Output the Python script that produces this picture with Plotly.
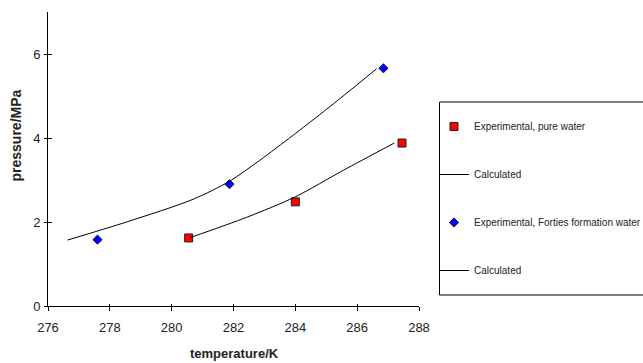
import plotly.graph_objects as go

# Experimental hydrate equilibrium points
pure_T = [280.55, 284.0, 287.45]
pure_P = [1.62, 2.48, 3.88]
forties_T = [277.6, 281.87, 286.85]
forties_P = [1.58, 2.90, 5.66]

# Calculated equilibrium curves
calc_pure_T = [280.6, 282.42, 284.0, 285.55, 287.2]
calc_pure_P = [1.63, 2.11, 2.60, 3.23, 3.88]
calc_forties_T = [276.63, 278.54, 280.69, 281.87, 282.85, 283.9, 284.9, 285.8, 286.63]
calc_forties_P = [1.57, 2.00, 2.54, 2.97, 3.47, 4.05, 4.62, 5.15, 5.65]

x_ticks = [276, 278, 280, 282, 284, 286, 288]
y_ticks = [0, 2, 4, 6]

FONT = "Arial, Liberation Sans, sans-serif"

fig = go.Figure()

fig.add_trace(go.Scatter(
    x=pure_T, y=pure_P, mode="markers", name="Experimental, pure water",
    marker=dict(symbol="square", size=8, color="#ff0000",
                line=dict(color="#222222", width=1)),
    legendgroup="a"))
fig.add_trace(go.Scatter(
    x=calc_pure_T, y=calc_pure_P, mode="lines", name="Calculated",
    line=dict(color="black", width=1, shape="spline", smoothing=0.8),
    legendgroup="b"))
fig.add_trace(go.Scatter(
    x=forties_T, y=forties_P, mode="markers",
    name="Experimental, Forties formation water",
    marker=dict(symbol="diamond", size=7, color="#0000ff",
                line=dict(color="#111133", width=1)),
    legendgroup="c"))
fig.add_trace(go.Scatter(
    x=calc_forties_T, y=calc_forties_P, mode="lines", name="Calculated",
    line=dict(color="black", width=1, shape="spline", smoothing=0.8),
    legendgroup="d"))

W, H = 643, 363
L, R, T, B = 48, 224, 12, 57
pw, ph = W - L - R, H - T - B

def px_x(p):
    return (p - L) / pw

def px_y(p):
    return (H - B - p) / ph

axis_common = dict(showgrid=False, zeroline=False, showline=True,
                   linecolor="black", linewidth=1, ticks="outside",
                   tickcolor="black", tickwidth=1,
                   tickfont=dict(family=FONT, size=13, color="#222222"))

fig.update_layout(
    width=W, height=H,
    margin=dict(l=L, r=R, t=T, b=B, autoexpand=False),
    paper_bgcolor="white", plot_bgcolor="white",
    font=dict(family=FONT, color="black"),
    xaxis=dict(range=[276, 288], tickvals=x_ticks, ticklen=4,
               ticklabelstandoff=5, **axis_common),
    yaxis=dict(range=[0, 7], tickvals=y_ticks, ticklen=3,
               ticklabelstandoff=1, **axis_common),
    # overlay axes supply the inner half of the crossing tick marks
    xaxis2=dict(range=[276, 288], tickvals=x_ticks, overlaying="x",
                anchor="y", side="bottom", showgrid=False, zeroline=False,
                showline=False, ticks="inside", ticklen=2, tickcolor="black",
                showticklabels=False),
    yaxis2=dict(range=[0, 7], tickvals=y_ticks, overlaying="y",
                anchor="x", side="left", showgrid=False, zeroline=False,
                showline=False, ticks="inside", ticklen=4, tickcolor="black",
                showticklabels=False),
    annotations=[
        dict(text="<b>temperature/K</b>", xref="paper", yref="paper",
             x=px_x(234), y=px_y(353), xanchor="center", yanchor="middle",
             showarrow=False, font=dict(family=FONT, size=13, color="#222222")),
        dict(text="<b>pressure/MPa</b>", xref="paper", yref="paper",
             x=px_x(15), y=px_y(135.5), xanchor="center", yanchor="middle",
             textangle=-90, showarrow=False,
             font=dict(family=FONT, size=14, color="#222222")),
    ],
    showlegend=True,
    legend=dict(x=px_x(434), y=px_y(112), xanchor="left", yanchor="top",
                bgcolor="rgba(0,0,0,0)", borderwidth=0,
                traceorder="grouped", tracegroupgap=29,
                font=dict(family=FONT, size=10, color="#222222")),
    shapes=[dict(type="rect", xref="paper", yref="paper",
                 x0=px_x(439.5), x1=px_x(660), y0=px_y(295), y1=px_y(102),
                 line=dict(color="black", width=1), fillcolor="rgba(0,0,0,0)",
                 layer="above")],
)

# invisible trace so the overlay axes are drawn
fig.add_trace(go.Scatter(x=[276], y=[0], xaxis="x2", yaxis="y2",
                         mode="markers", marker=dict(opacity=0),
                         showlegend=False, hoverinfo="skip"))

fig.write_html("out.html")
